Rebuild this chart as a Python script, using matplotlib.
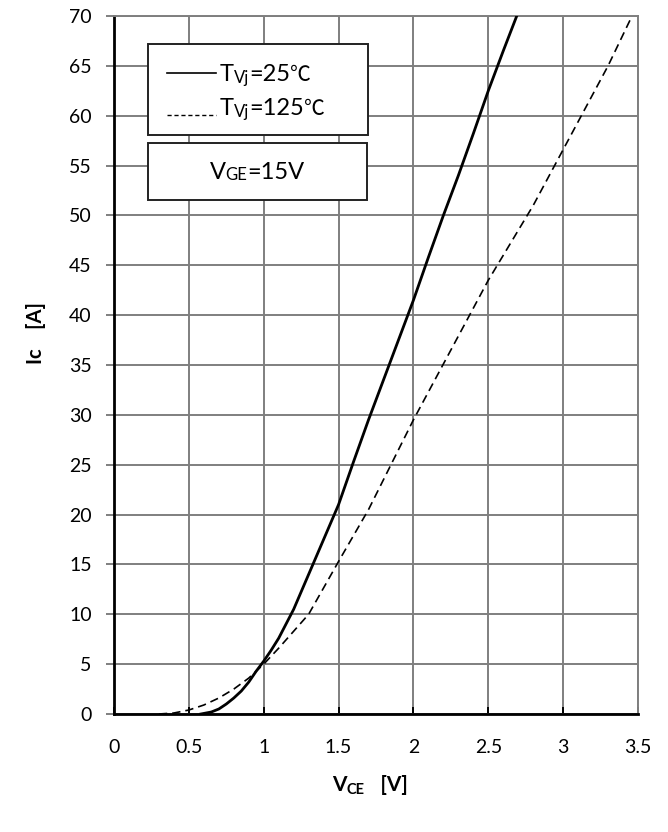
import matplotlib
matplotlib.use("Agg")
import matplotlib.pyplot as plt
from matplotlib.patches import Rectangle

plt.rcParams['font.family'] = ['Lato', 'DejaVu Sans']

# 25 C curve
v25 = [0.58, 0.65, 0.7, 0.75, 0.8, 0.85, 0.9, 0.95, 1.0, 1.05, 1.1, 1.2, 1.3, 1.4, 1.5,
       1.6, 1.7, 1.8, 1.9, 2.0, 2.1, 2.2, 2.3, 2.4, 2.5, 2.6, 2.69]
i25 = [0, 0.2, 0.5, 1.0, 1.6, 2.3, 3.2, 4.3, 5.3, 6.4, 7.6, 10.5, 14.0, 17.5, 21.0,
       25.3, 29.5, 33.5, 37.5, 41.5, 45.8, 50.0, 54.0, 58.2, 62.5, 66.5, 70]
# 125 C curve
v125 = [0.3, 0.4, 0.5, 0.6, 0.7, 0.8, 0.9, 1.0, 1.1, 1.2, 1.3, 1.5, 1.7, 2.0,
        2.25, 2.5, 2.8, 3.05, 3.3, 3.46]
i125 = [0, 0.1, 0.4, 0.9, 1.6, 2.5, 3.6, 5.0, 6.6, 8.3, 10.0, 15.3, 20.5, 29.5,
        36.5, 43.5, 51.0, 58.0, 65.0, 70]

xticks = [0, 0.5, 1, 1.5, 2, 2.5, 3, 3.5]
xticklabels = ['0', '0.5', '1', '1.5', '2', '2.5', '3', '3.5']
yticks = list(range(0, 75, 5))

fig = plt.figure(figsize=(6.68, 8.32), dpi=100)
ax = fig.add_axes([114/668, 1 - 714/832, (638 - 114)/668, (714 - 16)/832])

ax.plot(v25, i25, color='black', lw=2.0, zorder=3)
ax.plot(v125, i125, color='black', lw=1.2, ls=(0, (5, 3)), zorder=3)

ax.set_xlim(0, 3.5)
ax.set_ylim(0, 70)
ax.set_xticks(xticks)
ax.set_xticklabels(xticklabels)
ax.set_yticks(yticks)
ax.grid(True, color='#7f7f7f', lw=1.4, zorder=1)
ax.set_axisbelow(True)

for s in ['top', 'right']:
    ax.spines[s].set_color('#7f7f7f')
    ax.spines[s].set_linewidth(1.4)
for s in ['left', 'bottom']:
    ax.spines[s].set_color('black')
    ax.spines[s].set_linewidth(2.0)

ax.tick_params(axis='y', direction='out', length=6, width=1.4, color='#7f7f7f',
               labelsize=14, pad=10)
ax.tick_params(axis='x', direction='in', length=5, width=1.4, color='black',
               labelsize=14, pad=18)

ax.set_ylabel('Ic    [A]', fontsize=14.5, fontweight='bold', labelpad=14)
ax.yaxis.set_label_coords(-0.13, 0.546)

def fx(px):
    return px / 668
def fy(py):
    return 1 - py / 832

fig.canvas.draw()
renderer = fig.canvas.get_renderer()

def seq_text(x0_px, y_px, pieces, ha='left'):
    """pieces: list of (text, size, family, dy_px, weight)"""
    arts = []
    x = x0_px
    for txt, size, fam, dy, wt in pieces:
        t = fig.text(fx(x), fy(y_px + dy), txt, fontsize=size, family=fam,
                     fontweight=wt, ha='left', va='baseline', zorder=7)
        bb = t.get_window_extent(renderer)
        x += bb.width
        arts.append(t)
    total = x - x0_px
    if ha == 'center':
        for t in arts:
            px, py = t.get_position()
            t.set_position((px - fx(total / 2), py))
    return arts

LAT = ['Lato', 'DejaVu Sans']
CJK = ['Noto Sans CJK SC', 'DejaVu Sans']

# legend boxes
fig.patches.append(Rectangle((fx(148), fy(135)), fx(368) - fx(148), fy(44) - fy(135),
                             transform=fig.transFigure, facecolor='white',
                             edgecolor='#222222', lw=1.4, zorder=5))
fig.patches.append(Rectangle((fx(148), fy(200)), fx(367) - fx(148), fy(143) - fy(200),
                             transform=fig.transFigure, facecolor='white',
                             edgecolor='#222222', lw=1.4, zorder=5))

fig.add_artist(plt.Line2D([fx(167), fx(216)], [fy(73), fy(73)], color='black', lw=1.2,
                          transform=fig.transFigure, zorder=6))
fig.add_artist(plt.Line2D([fx(167), fx(216)], [fy(115), fy(115)], color='black', lw=1.0,
                          ls=(0, (3, 2)), transform=fig.transFigure, zorder=6))

seq_text(220, 81, [('T', 17, LAT, 0, 'normal'), ('Vj', 12, LAT, 2, 'normal'),
                   ('=25', 17, LAT, 0, 'normal'), ('℃', 15, CJK, 0, 'normal')])
seq_text(220, 115, [('T', 17, LAT, 0, 'normal'), ('Vj', 12, LAT, 2, 'normal'),
                    ('=125', 17, LAT, 0, 'normal'), ('℃', 15, CJK, 0, 'normal')])
seq_text(257, 179, [('V', 17, LAT, 0, 'normal'), ('GE', 12, LAT, 1, 'normal'),
                    ('=15V', 17, LAT, 0, 'normal')], ha='center')

seq_text(370, 791, [('V', 15, LAT, 0, 'bold'), ('CE', 10.5, LAT, 3, 'bold'),
                    ('   [V]', 15, LAT, 0, 'bold')], ha='center')

fig.savefig('out.png', dpi=100)
